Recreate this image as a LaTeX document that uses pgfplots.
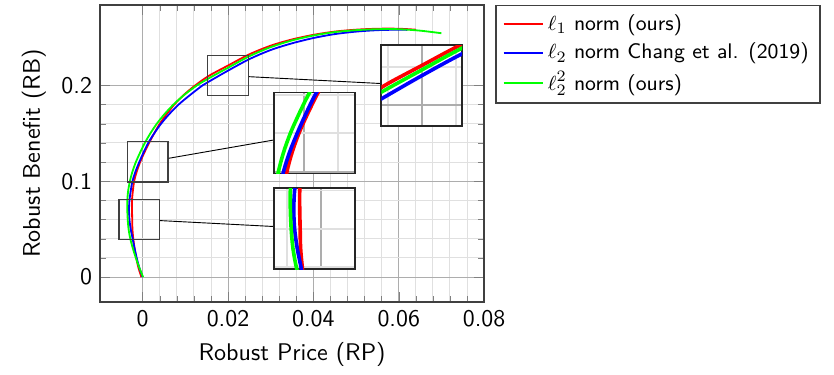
\documentclass[border=0pt]{standalone}
\usepackage{pgfplots}
\pgfplotsset{compat=1.18}
\renewcommand{\familydefault}{\sfdefault}
\pgfplotstableread{
x y
-0.0003 0.000
-0.0010 0.010
-0.0015 0.020
-0.0019 0.030
-0.0022 0.040
-0.0024 0.050
-0.00245 0.060
-0.0025 0.070
-0.0025 0.080
-0.0023 0.090
-0.0020 0.100
-0.0014 0.110
-0.0006 0.120
0.0004 0.130
0.0015 0.140
0.0027 0.150
0.0040 0.160
0.0056 0.170
0.0074 0.180
0.0096 0.190
0.0123 0.200
0.0155 0.2100
0.0200 0.2208
0.0250 0.2325
0.0300 0.2415
0.0350 0.2480
0.0400 0.2528
0.0450 0.2562
0.0500 0.2582
0.0550 0.2592
0.0600 0.2592
0.0640 0.2582
}\redtab
\pgfplotstableread{
x y
0.0000 0.000
-0.0008 0.010
-0.0014 0.020
-0.0019 0.030
-0.00235 0.040
-0.0028 0.050
-0.0031 0.060
-0.0032 0.070
-0.0031 0.080
-0.0028 0.090
-0.0024 0.100
-0.0017 0.110
-0.0008 0.120
0.0002 0.130
0.0013 0.140
0.0027 0.150
0.0043 0.160
0.0062 0.170
0.0084 0.180
0.0111 0.190
0.0140 0.200
0.0155 0.2040
0.0200 0.2155
0.0250 0.2275
0.0300 0.2370
0.0350 0.2440
0.0400 0.2495
0.0450 0.2536
0.0500 0.2562
0.0550 0.2577
0.0600 0.2582
0.0620 0.2580
}\bluetab
\pgfplotstableread{
x y
0.0001 0.000
-0.0008 0.010
-0.0016 0.020
-0.0023 0.030
-0.0029 0.040
-0.0033 0.050
-0.0035 0.060
-0.0036 0.070
-0.0036 0.080
-0.0034 0.090
-0.0030 0.100
-0.0024 0.110
-0.0016 0.120
-0.0006 0.130
0.0005 0.140
0.0018 0.150
0.0033 0.160
0.0051 0.170
0.0072 0.180
0.0097 0.190
0.0127 0.200
0.0155 0.2075
0.0200 0.2185
0.0250 0.2305
0.0300 0.2400
0.0350 0.2470
0.0400 0.2521
0.0450 0.2557
0.0500 0.2577
0.0550 0.2587
0.0600 0.2587
0.0650 0.2572
0.0700 0.2545
}\greentab
\pgfplotsset{
  insetstyle/.style={
    scale only axis, width=35.6pt, height=35.6pt, anchor=center,
    scaled x ticks=false, scaled y ticks=false,
    xtick={-0.02,0,0.02,0.04,0.06,0.08},
    minor xtick={-0.008,-0.004,0.004,0.008,0.012,0.016,0.024,0.028,0.032},
    ytick={0,0.1,0.2},
    minor ytick={0.02,0.04,0.06,0.08,0.12,0.14,0.16,0.18,0.22,0.24},
    grid=both, major grid style={black!32, line width=0.8pt},
    minor grid style={black!12, line width=0.8pt},
    xticklabels={}, yticklabels={},
    major tick length=0pt, minor tick length=0pt,
    axis line style={black!85, thick},
    axis background/.style={fill=white},
  },
}
\begin{document}
\begin{tikzpicture}
\begin{axis}[
  name=main,
  scale only axis, width=169pt, height=130.7pt,
  xmin=-0.01, xmax=0.08, ymin=-0.026, ymax=0.284,
  xtick={0,0.02,0.04,0.06,0.08}, ytick={0,0.1,0.2},
  minor x tick num=4, minor y tick num=4,
  grid=both, major grid style={black!32}, minor grid style={black!12},
  scaled x ticks=false, scaled y ticks=false,
  tick label style={/pgf/number format/fixed, font=\fontsize{10.5}{12.6}\selectfont},
  label style={font=\fontsize{10.6}{12.7}\selectfont},
  /pgf/number format/assume math mode=true,
  xlabel={Robust Price (RP)}, ylabel={Robust Benefit (RB)},
  axis line style={black!75, semithick},
  legend style={at={(1.029,1)}, anchor=north west, draw=black!75, semithick,
    font=\fontsize{9.3}{11.2}\selectfont},
  legend cell align=left,
]
\addplot[red, line width=0.8pt, smooth] table {\redtab};
\addlegendentry{$\ell_1$ norm (ours)}
\addplot[blue, line width=0.8pt, smooth] table {\bluetab};
\addlegendentry{$\ell_2$ norm Chang et al. (2019)}
\addplot[green, line width=0.8pt, smooth] table {\greentab};
\addlegendentry{$\ell_2^2$ norm (ours)}
\coordinate (s1) at (axis cs:0.0200,0.2103);
\coordinate (s2) at (axis cs:0.0012,0.1202);
\coordinate (s3) at (axis cs:-0.0008,0.0601);
\coordinate (l1) at (axis cs:0.0654,0.1998);
\coordinate (l2) at (axis cs:0.0402,0.1504);
\coordinate (l3) at (axis cs:0.0402,0.0506);
\end{axis}
\path (main.south west) ++(-44pt,-28.6pt) rectangle ++(366.96pt,161.48pt);
% small boxes and connectors
\foreach \i in {1,2,3}{
  \node[draw=black!75, semithick, minimum width=17.8pt, minimum height=17.8pt, inner sep=0pt] (n\i) at (s\i) {};
  \node[minimum width=35.6pt, minimum height=35.6pt, inner sep=0pt] (b\i) at (l\i) {};
  \draw[black, thin] (n\i) -- (b\i);
}
% magnified insets
\begin{axis}[insetstyle, at={(l1)}, xmin=0.015260, xmax=0.024740, ymin=0.18919, ymax=0.23141]
\addplot[red, line width=1.6pt, smooth] table {\redtab};
\addplot[blue, line width=1.6pt, smooth] table {\bluetab};
\addplot[green, line width=1.6pt, smooth] table {\greentab};
\end{axis}
\begin{axis}[insetstyle, at={(l2)}, xmin=-0.003540, xmax=0.005940, ymin=0.09909, ymax=0.14131]
\addplot[red, line width=1.6pt, smooth] table {\redtab};
\addplot[blue, line width=1.6pt, smooth] table {\bluetab};
\addplot[green, line width=1.6pt, smooth] table {\greentab};
\end{axis}
\begin{axis}[insetstyle, at={(l3)}, xmin=-0.005540, xmax=0.003940, ymin=0.03899, ymax=0.08121]
\addplot[red, line width=1.6pt, smooth] table {\redtab};
\addplot[blue, line width=1.6pt, smooth] table {\bluetab};
\addplot[green, line width=1.6pt, smooth] table {\greentab};
\end{axis}
\end{tikzpicture}
\end{document}
